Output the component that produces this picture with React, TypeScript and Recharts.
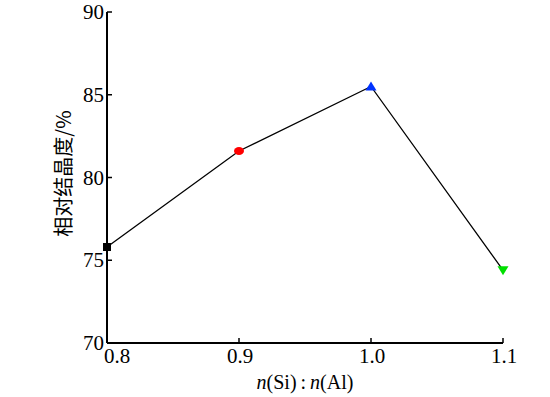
import React from "react";
import { LineChart, Line, XAxis, YAxis } from "recharts";

const ratios = [0.8, 0.9, 1.0, 1.1];
const crystallinity = [75.8, 81.6, 85.5, 74.4];
const markerShapes = ["square", "circle", "triangleUp", "triangleDown"];
const markerColors = ["#000000", "#ff0000", "#0033ff", "#00e000"];
const xTicks = [0.8, 0.9, 1.0, 1.1];
const yTicks = [70, 75, 80, 85, 90];

const data = ratios.map((r, i) => ({ x: r, y: crystallinity[i] }));

const SERIF = "Liberation Serif, Times New Roman, DejaVu Serif, serif";
const serifStyle = { fontFamily: SERIF };

const Dot = (props: any) => {
  const { cx, cy, index } = props;
  if (cx == null || cy == null) return null;
  const shape = markerShapes[index];
  const c = markerColors[index];
  if (shape === "square") {
    return <rect key={index} x={cx - 4} y={cy - 4} width={8} height={8} fill={c} />;
  }
  if (shape === "circle") {
    return <ellipse key={index} cx={cx} cy={cy} rx={5} ry={4} fill={c} />;
  }
  if (shape === "triangleUp") {
    return (
      <polygon key={index} points={`${cx - 5.5},${cy + 4} ${cx + 5.5},${cy + 4} ${cx},${cy - 5}`} fill={c} />
    );
  }
  return (
    <polygon key={index} points={`${cx - 5.5},${cy - 4} ${cx + 5.5},${cy - 4} ${cx},${cy + 5}`} fill={c} />
  );
};

const YTick = (props: any) => {
  const { x, y, payload } = props;
  return (
    <g>
      {payload.value !== 70 && (
        <line x1={x + 3} x2={x + 8} y1={y} y2={y} stroke="#000" strokeWidth={1.5} />
      )}
      <text x={x} y={y} dy={7} textAnchor="end" style={serifStyle} fontSize={21} fill="#000">
        {payload.value}
      </text>
    </g>
  );
};

const XTick = (props: any) => {
  const { x, y, payload, index } = props;
  const shift = index === 0 ? 10 : 1;
  return (
    <g>
      {index !== 0 && (
        <line x1={x} x2={x} y1={y - 3} y2={y - 8} stroke="#000" strokeWidth={1.5} />
      )}
      <text x={x + shift} y={y} dy={17} textAnchor="middle" style={serifStyle} fontSize={21} fill="#000">
        {Number(payload.value).toFixed(1)}
      </text>
    </g>
  );
};

export default function App() {
  return (
    <div style={{ position: "absolute", left: 0, top: 0, width: 550, height: 397, background: "#fff" }}>
      <LineChart width={550} height={397} data={data} margin={{ top: 12, right: 47, bottom: 0, left: 0 }}>
        <XAxis
          dataKey="x"
          type="number"
          domain={[0.8, 1.1]}
          ticks={xTicks}
          interval={0}
          height={54}
          tickLine={false}
          tickSize={0}
          tickMargin={3}
          axisLine={{ stroke: "#000", strokeWidth: 2 }}
          tick={<XTick />}
          label={{
            content: (p: any) => {
              const vb = p.viewBox;
              return (
                <text
                  x={vb.x + vb.width / 2}
                  y={vb.y + 46}
                  textAnchor="middle"
                  style={serifStyle}
                  fontSize={20}
                  fill="#000"
                >
                  <tspan fontStyle="italic">n</tspan>
                  <tspan>(Si)</tspan>
                  <tspan dx={4}>:</tspan>
                  <tspan dx={4} fontStyle="italic">n</tspan>
                  <tspan>(Al)</tspan>
                </text>
              );
            },
          }}
        />
        <YAxis
          type="number"
          domain={[70, 90]}
          ticks={yTicks}
          interval={0}
          width={107}
          tickLine={false}
          tickSize={0}
          tickMargin={3}
          axisLine={{ stroke: "#000", strokeWidth: 2 }}
          tick={<YTick />}
          label={{
            content: (p: any) => {
              const vb = p.viewBox;
              const cx = vb.x + 62;
              const cy = vb.y + vb.height / 2 - 4;
              return (
                <text
                  x={cx}
                  y={cy}
                  transform={`rotate(-90, ${cx}, ${cy})`}
                  textAnchor="middle"
                  dominantBaseline="central"
                  style={{ fontFamily: "Noto Sans CJK SC, sans-serif" }}
                  fontSize={20}
                  fill="#000"
                >
                  相对结晶度/%
                </text>
              );
            },
          }}
        />
        <Line
          dataKey="y"
          stroke="#000"
          strokeWidth={1.3}
          dot={<Dot />}
          activeDot={false}
          isAnimationActive={false}
        />
      </LineChart>
    </div>
  );
}
